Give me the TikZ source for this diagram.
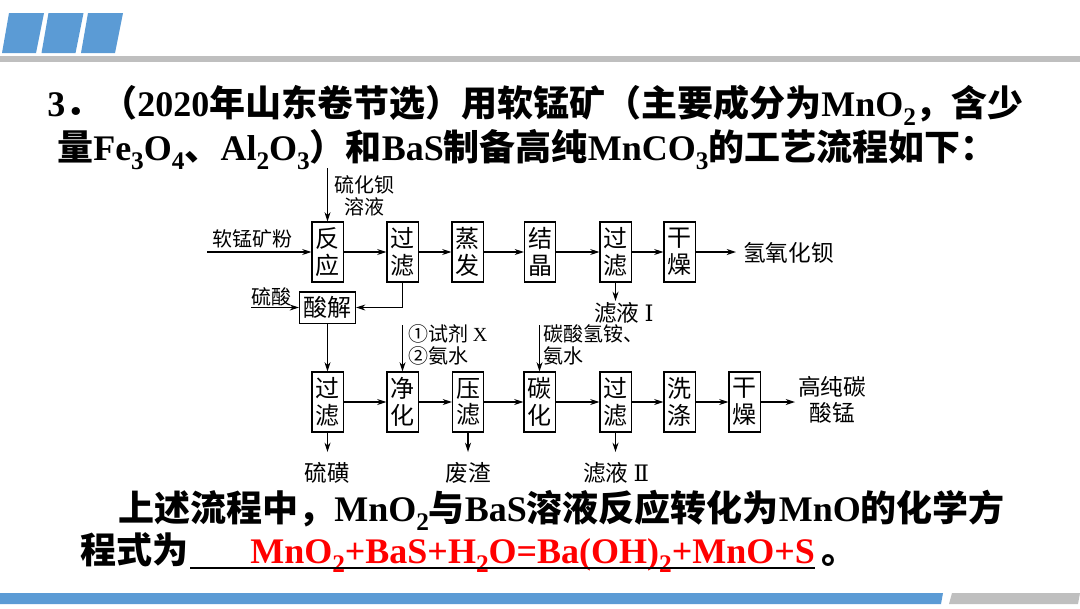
\documentclass[tikz,border=0pt]{standalone}
\usepackage{fontspec}
\setmainfont{Liberation Serif}
\newfontfamily\cjk{Noto Sans CJK SC}
\newfontfamily\romnum{DejaVu Serif}
\usetikzlibrary{arrows.meta}

\definecolor{barblue}{HTML}{5B9BD5}
\definecolor{bargray}{HTML}{BFBFBF}

% subscript for the large text
\newcommand\sbs[1]{\raisebox{-0.25em}{\fontsize{19}{19}\selectfont #1}}

\tikzset{
  proc/.style={draw, line width=0.8pt, minimum width=23.3pt, minimum height=45pt,
    inner sep=0pt, align=center, font=\cjk\fontsize{18}{20}\selectfont},
  lbl/.style={inner sep=0pt, align=center, font=\cjk\fontsize{17}{19}\selectfont},
  lbs/.style={inner sep=0pt, align=left, font=\cjk\fontsize{15}{16.5}\selectfont},
  flow/.style={-{Stealth[length=7pt,width=4.5pt]}, line width=0.8pt},
  bigtxt/.style={inner sep=0pt, anchor=base west, font=\bfseries\fontsize{27}{32}\selectfont},
}

\begin{document}
\begin{tikzpicture}[x=0.75pt, y=-0.75pt]
		\useasboundingbox (0,0) rectangle (1080,608);
		
		% header bars
		\foreach \dx in {0, 39.5, 79}
		\fill[barblue] (2+\dx,53) -- (9+\dx,13) -- (44+\dx,13) -- (36+\dx,53) -- cycle;
		\fill[bargray] (0,56) rectangle (1080,62);
		% footer bars
		\fill[barblue] (0,593) -- (943,593) -- (941,604) -- (0,604) -- cycle;
		\fill[bargray] (952,593) -- (1080,593) -- (1078,604) -- (949,604) -- cycle;
		
		% question text
		\node[bigtxt] (q1) at (47,116) {3{\cjk ．（}2020{\cjk 年山东卷节选）用软锰矿（主要成分为}MnO\sbs{2}{\cjk ，含少}};
		\node[bigtxt] (q2) at (57,160) {{\cjk 量}Fe\sbs{3}O\sbs{4}{\cjk 、}Al\sbs{2}O\sbs{3}{\cjk ）和}BaS{\cjk 制备高纯}MnCO\sbs{3}{\cjk 的工艺流程如下：}};
		
		% upper row
		\node[proc] (fy)  at (327.5,252) {反\\应};
		\node[proc] (gl1) at (402.5,252) {过\\滤};
		\node[proc] (zf)  at (467.5,252) {蒸\\发};
		\node[proc] (jj)  at (540,252)   {结\\晶};
		\node[proc] (gl2) at (615.5,252) {过\\滤};
		\node[proc] (gz1) at (679.5,252) {干\\燥};
		\node[proc, minimum width=42pt, minimum height=23.3pt] (sj) at (327.5,307.5) {酸解};
		
		\foreach \a/\b in {fy/gl1, gl1/zf, zf/jj, jj/gl2, gl2/gz1}
		\draw[flow] (\a) -- (\b);
		
		\node[lbs] (rmk) at (252,239) {软锰矿粉};
		\coordinate (rmkin) at (207,252);
		\draw[flow] (rmkin) -- (fy);
		\node[lbs, align=center] (bas) at (364,196) {硫化钡\\溶液};
		\coordinate (basin) at (327.5,168);
		\draw[flow] (basin) -- (fy);
		\node[lbs] (ls) at (271,297) {硫酸};
		\coordinate (lsin) at (251,307.5);
		\draw[flow] (lsin) -- (sj);
		\draw[flow] (gl1.south) |- (sj.east);
		
		\node[lbl, anchor=west] (boh) at (743,253) {氢氧化钡};
		\coordinate (bohin) at (736,252);
		\draw[flow] (gz1) -- (bohin);
		\node[lbl] (ly1) at (624,313) {滤液 {\romnum Ⅰ}};
		\coordinate (ly1in) at (615.5,301);
		\draw[flow] (gl2) -- (ly1in);
		
		% lower row
		\node[proc] (gl3) at (327.5,402) {过\\滤};
		\node[proc] (jh)  at (402.5,402) {净\\化};
		\node[proc] (yl)  at (468,402)   {压\\滤};
		\node[proc] (th)  at (539.5,402) {碳\\化};
		\node[proc] (gl4) at (615.5,402) {过\\滤};
		\node[proc] (xd)  at (679.5,402) {洗\\涤};
		\node[proc] (gz2) at (744.5,402) {干\\燥};
		
		\foreach \a/\b in {gl3/jh, jh/yl, yl/th, th/gl4, gl4/xd, xd/gz2}
		\draw[flow] (\a) -- (\b);
		\draw[flow] (sj) -- (gl3);
		
		\node[lbs, anchor=north west] (sjx) at (408,324) {①试剂 \textrm{X}\\②氨水};
		\coordinate (sjxin) at (402.5,325);
		\draw[flow] (sjxin) -- (jh);
		\node[lbs, anchor=north west] (tsq) at (543,324) {碳酸氢铵、\\氨水};
		\coordinate (tsqin) at (539.5,325);
		\draw[flow] (tsqin) -- (th);
		
		\node[lbl] (lh) at (327.5,473) {硫磺};
		\coordinate (lhin) at (327.5,452);
		\draw[flow] (gl3) -- (lhin);
		\node[lbl] (fz) at (468,473) {废渣};
		\coordinate (fzin) at (468,452);
		\draw[flow] (yl) -- (fzin);
		\node[lbl] (ly2) at (616,473) {滤液 {\romnum Ⅱ}};
		\coordinate (ly2in) at (615.5,452);
		\draw[flow] (gl4) -- (ly2in);
		
		\node[lbl] (mnco) at (832,400) {高纯碳\\酸锰};
		\coordinate (mncoin) at (795,402);
		\draw[flow] (gz2) -- (mncoin);
		
		% answer text
		\node[bigtxt] (a1) at (118,521) {{\cjk 上述流程中，}MnO\sbs{2}{\cjk 与}BaS{\cjk 溶液反应转化为}MnO{\cjk 的化学方}};
		\node[bigtxt] (a2) at (80,563) {\cjk 程式为};
		\node[bigtxt, text=red] (ans) at (250,563) {MnO\sbs{2}+BaS+H\sbs{2}O=Ba(OH)\sbs{2}+MnO+S};
		\node[bigtxt] (dot) at (821,563) {\cjk 。};
		\coordinate (ulA) at (190,568);
		\coordinate (ulB) at (815,568);
		\draw[line width=1.2pt] (ulA) -- (ulB);
		
	\end{tikzpicture}
\end{document}
